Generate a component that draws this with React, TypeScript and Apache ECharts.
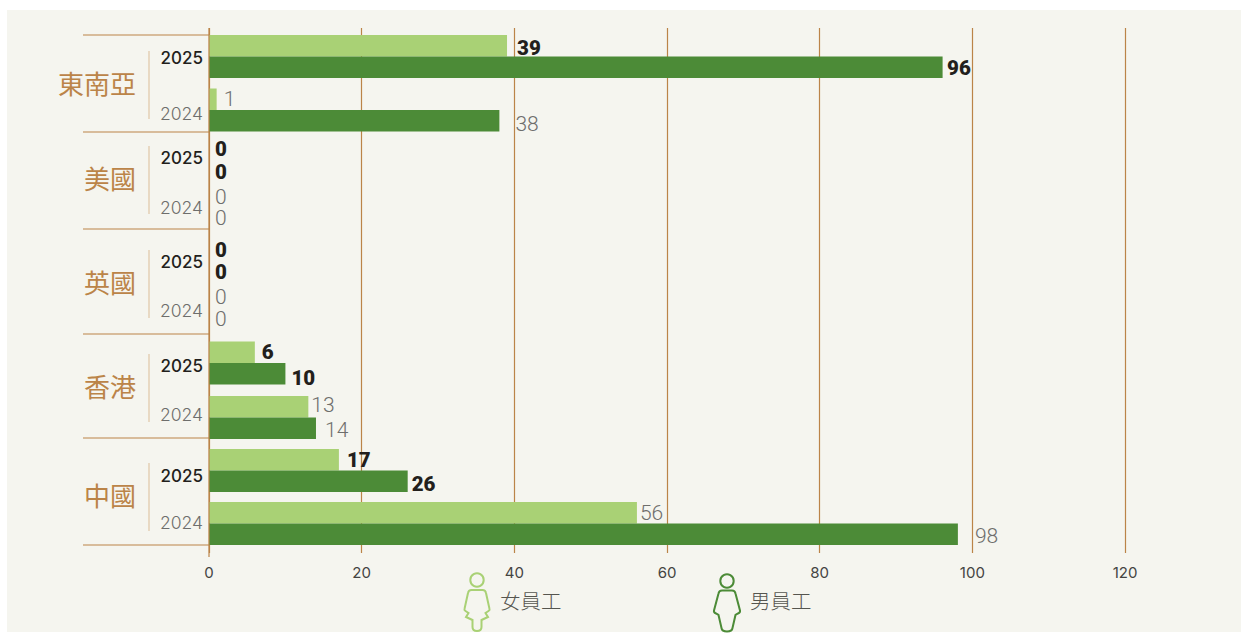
import React, { useEffect, useRef } from "react";
import * as echarts from "echarts";

const regions = ["東南亞", "美國", "英國", "香港", "中國"];
const years = ["2025", "2024"];
const female2025 = [39, 0, 0, 6, 17];
const male2025 = [96, 0, 0, 10, 26];
const female2024 = [1, 0, 0, 13, 56];
const male2024 = [38, 0, 0, 14, 98];
const xTicks = [0, 20, 40, 60, 80, 100, 120];
const legendNames = ["女員工", "男員工"];

const LIGHT = "#a9d175";
const DARK = "#4c8b37";
const BROWN = "#bb8448";
const RULE = "#dfc6a6";
const BG = "#f5f5ef";
const INK = "#231f1c";
const GREY = "#6e6e6c";
const AXIS_TEXT = "#444442";
const FONT = "Inter, 'Noto Sans CJK TC', sans-serif";
const VALUE_FONT = "Roboto, sans-serif";
const CJK = "'Noto Sans CJK TC', sans-serif";

const X0 = 209;
const X1 = 1125;
const BAR_X1 = 1126;
const W = 1241;
const H = 633;
const BAR = 21.5;
const rowCentres = [[56.5, 110], [160, 207.5], [260.5, 308], [363, 417.5], [470.5, 523.5]];
const seps = [35, 132, 229, 334, 438, 545];
const ruleTops = [51, 146, 250, 354, 463];
const regionY = [82, 177, 281, 385, 494];
const yearLabelY = [[58, 113], [158, 207], [262, 310], [366, 414], [476, 522]];
// gap between each bar's end and its value label: [female 2025, male 2025, female 2024, male 2024]
const labelGaps = [
  [10, 4.5, 7, 16],
  [6, 6, 6, 6],
  [6, 6, 6, 6],
  [7, 6, 3, 9],
  [8, 4, 3, 17],
];
// vertical nudge of each value label, same order
const labelNudges = [
  [2, 1, 0, 3],
  [0, 1, 0, 0],
  [0, 1, 0, 0],
  [0, 4, -2, 2],
  [0, 3, 0, 2],
];

const femaleBody = "M8 1 L19 1 Q22 1 22.5 4 L26 20 Q26.5 21 25 22 L22 24 L24.5 28 L18 31 L18 38 Q18 42 13.5 42 Q9 42 9 38 L9 31 L2.5 28 L5 24 L2 22 Q0.5 21 1 20 L4.5 4 Q5 1 8 1 Z";
const maleBody = "M9 1 L19 1 Q22 1 22.5 4 L27 21 Q27.5 23 25 24 L22.5 25.5 L19.5 38.5 Q19 42 14 42 Q9 42 8.5 38.5 L5.5 25.5 L3 24 Q0.5 23 1 21 L5.5 4 Q6 1 9 1 Z";

export default function App() {
  const ref = useRef<HTMLDivElement>(null);
  useEffect(() => {
    document.body.style.margin = "0";
    echarts.graphic.registerShape("femaleBody", echarts.graphic.extendPath(femaleBody as any, {}) as any);
    echarts.graphic.registerShape("maleBody", echarts.graphic.extendPath(maleBody as any, {}) as any);
    const chart = echarts.init(ref.current!, undefined, { renderer: "svg" });

    const grids: any[] = [{ left: X0, width: X1 - X0, top: 28, height: 525 }];
    const xAxes: any[] = [{
      type: "value", gridIndex: 0, min: 0, max: 120, interval: 20,
      axisLine: { show: false }, axisTick: { show: false },
      splitLine: { show: true, lineStyle: { color: BROWN, width: 1.2 } },
      axisLabel: {
        show: true, margin: 12, fontSize: 15, color: AXIS_TEXT, fontFamily: FONT,
        formatter: (v: number) => (xTicks.includes(v) ? String(v) : ""),
      },
    }];
    const yAxes: any[] = [{ type: "category", gridIndex: 0, show: false, data: [""] }];
    const series: any[] = [];

    regions.forEach((_, i) => {
      const [c0, c1] = rowCentres[i];
      const pitch = c1 - c0;
      grids.push({ left: X0, width: BAR_X1 - X0, top: c0 - pitch / 2, height: pitch * 2 });
      xAxes.push({ type: "value", gridIndex: i + 1, min: 0, max: 120, show: false, splitLine: { show: false } });
      yAxes.push({ type: "category", gridIndex: i + 1, inverse: true, data: years, show: false });
      const item = (v: number, yearIdx: number, sexIdx: number) => {
        const strong = yearIdx === 0;
        const k = yearIdx * 2 + sexIdx;
        return {
          value: v,
          label: {
            show: true, position: "right", distance: labelGaps[i][k], offset: [0, labelNudges[i][k]],
            fontFamily: VALUE_FONT, fontSize: strong ? 20.5 : 21, fontWeight: strong ? 900 : 300,
            color: strong ? INK : GREY, formatter: String(v),
          },
        };
      };
      series.push({
        type: "bar", name: legendNames[0], xAxisIndex: i + 1, yAxisIndex: i + 1,
        barWidth: BAR, barGap: 0, itemStyle: { color: LIGHT },
        data: [item(female2025[i], 0, 0), item(female2024[i], 1, 0)],
      });
      series.push({
        type: "bar", name: legendNames[1], xAxisIndex: i + 1, yAxisIndex: i + 1,
        barWidth: BAR, barGap: 0, itemStyle: { color: DARK },
        data: [item(male2025[i], 0, 1), item(male2024[i], 1, 1)],
      });
    });

    const graphic: any[] = [
      { type: "rect", z: -10, silent: true, shape: { x: 7, y: 10, width: W - 7, height: 622 }, style: { fill: BG } },
    ];
    seps.forEach((y) => graphic.push({
      type: "line", z: 5, shape: { x1: 83, y1: y, x2: X0, y2: y }, style: { stroke: BROWN, lineWidth: 1.2 },
    }));
    regions.forEach((name, i) => {
      graphic.push({
        type: "text", z: 5, x: 136, y: regionY[i],
        style: { text: name, fontFamily: CJK, fontSize: 26, fill: BROWN, align: "right", verticalAlign: "middle" },
      });
      graphic.push({
        type: "line", z: 5, shape: { x1: 149, y1: ruleTops[i], x2: 149, y2: ruleTops[i] + 68 },
        style: { stroke: RULE, lineWidth: 1.2 },
      });
      years.forEach((yr, k) => graphic.push({
        type: "text", z: 5, x: 203, y: yearLabelY[i][k],
        style: {
          text: yr, fontFamily: FONT, fontSize: k === 0 ? 17 : 17.5, fontWeight: k === 0 ? 500 : 300,
          fill: k === 0 ? INK : GREY, align: "right", verticalAlign: "middle",
        },
      }));
    });
    // axis line over the bars' edge
    graphic.push({ type: "line", z: 6, shape: { x1: X0, y1: 28, x2: X0, y2: 557 }, style: { stroke: BROWN, lineWidth: 1.2 } });
    // legend
    graphic.push(
      { type: "circle", z: 5, shape: { cx: 477, cy: 580, r: 6.7 }, style: { fill: "none", stroke: LIGHT, lineWidth: 2 } },
      { type: "femaleBody", z: 5, x: 463.5, y: 589, style: { fill: "none", stroke: LIGHT, lineWidth: 2 } },
      { type: "text", z: 5, x: 500, y: 600, style: { text: legendNames[0], fontFamily: CJK, fontSize: 20.5, fontWeight: 300, fill: "#55554f", verticalAlign: "middle" } },
      { type: "circle", z: 5, shape: { cx: 727, cy: 581, r: 6.7 }, style: { fill: "none", stroke: DARK, lineWidth: 2 } },
      { type: "maleBody", z: 5, x: 713, y: 589.5, style: { fill: "none", stroke: DARK, lineWidth: 2 } },
      { type: "text", z: 5, x: 750, y: 600, style: { text: legendNames[1], fontFamily: CJK, fontSize: 20.5, fontWeight: 300, fill: "#55554f", verticalAlign: "middle" } },
    );

    chart.setOption({
      animation: false,
      grid: grids, xAxis: xAxes, yAxis: yAxes, series, graphic,
    });
    return () => chart.dispose();
  }, []);
  return <div ref={ref} style={{ width: W, height: H }} />;
}
